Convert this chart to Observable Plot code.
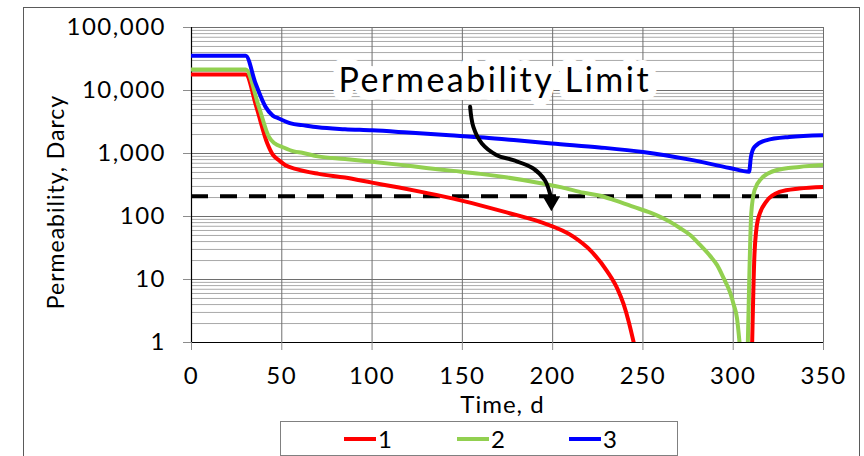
<!DOCTYPE html>
<html><head><meta charset="utf-8">
<script src="https://cdn.jsdelivr.net/npm/d3@7"></script>
<script src="https://cdn.jsdelivr.net/npm/@observablehq/plot@0.6"></script>
<style>
html,body{margin:0;padding:0;background:#fff;width:864px;height:456px;overflow:hidden;font-family:Lato, sans-serif;}
#frame{position:absolute;left:23px;top:7px;width:837px;height:480px;border:1.5px solid #5a5a5a;box-sizing:border-box;}
#chart{position:absolute;left:0;top:0;}
#legend{position:absolute;left:280px;top:421px;width:398px;height:35px;border:1px solid #808080;box-sizing:border-box;background:#fff;}
.item{position:absolute;top:0;height:33px;display:flex;align-items:center;font-size:24px;color:#000;letter-spacing:1px;}
.sw{display:inline-block;width:32px;height:4px;margin-right:2px;}
</style></head><body>
<div id="frame"></div><div id="chart"></div><div id="legend"></div>
<script>
// ---- data ----
const seriesNames = ["1", "2", "3"];
const seriesColors = ["#ff0000", "#92d050", "#0000ff"];

const time1 = [0, 30, 36, 42, 45, 48.4, 52, 57.6, 70.5, 85, 100, 115, 130, 145, 160, 175, 193, 211.7, 220.9, 230.2, 235.7, 239.3, 242.2, 244.9, 280, 310.5, 311.8, 313.6, 318.2, 325.6, 336.6, 350];
const perm1 = [17900, 17900, 5400, 1440, 960, 783, 650, 570, 475, 415, 345, 288, 237, 192, 150, 115, 82, 47.4, 29, 13.5, 7.3, 4.05, 2.1, 1, NaN, 1, 26, 87, 171, 245, 278, 295];

const time2 = [0, 30, 37.3, 42.9, 46, 50.3, 56.7, 61.3, 70, 85, 100, 115.7, 130, 145, 160, 175, 189.6, 205, 217.2, 226.4, 235, 244.9, 254.1, 263.4, 270.7, 276.3, 281.8, 287.3, 291.1, 294.7, 298.4, 300.2, 302.1, 303.5, 305, 308.1, 309, 310, 311.8, 315.5, 323.8, 336.6, 350];
const perm2 = [21500, 21500, 5500, 1830, 1450, 1270, 1080, 1025, 900, 820, 740, 660, 590, 530, 475, 415, 354, 290, 238, 213, 178, 142, 115, 87, 65, 50.5, 35, 23.5, 16.9, 10.5, 6.07, 4.06, 2.43, 1, NaN, 1, 14, 112, 261, 398, 543, 612, 655];

const time3 = [0, 30, 35.5, 41, 45, 48.4, 55, 61.3, 70, 85, 100, 120, 143, 162, 180, 199.4, 226, 250, 276, 298, 308.8, 309.8, 311.8, 318.2, 331, 350];
const perm3 = [35500, 35500, 12900, 5500, 4000, 3600, 3000, 2820, 2600, 2430, 2330, 2150, 1950, 1795, 1620, 1440, 1250, 1060, 800, 590, 515, 880, 1274, 1620, 1835, 1950];

const limitValue = 210;               // dashed permeability limit
const annotationText = "Permeability Limit";
const annotationT = 168, annotationK = 9400;
const arrowT = [154.3, 156.1, 160.8, 169.1, 178.2, 189.3, 195.7, 198.5, 199.2];
const arrowK = [5500, 2640, 1440, 940, 783, 578, 376, 232, 190];
const arrowHeadT = 199.3, arrowHeadK = 175;

const xTicks = [0, 50, 100, 150, 200, 250, 300, 350];
const yTicks = [1, 10, 100, 1000, 10000, 100000];
const minorMultipliers = [2, 3, 4, 5, 6, 7, 8, 9];

const xLabel = "Time, d";
const yLabel = "Permeability, Darcy";

// ---- build tables ----
const times = [time1, time2, time3];
const perms = [perm1, perm2, perm3];
const rows = [];
seriesNames.forEach((s, i) => times[i].forEach((t, j) => rows.push({series: s, t, k: perms[i][j]})));
const arrowRows = arrowT.map((t, i) => ({t, k: arrowK[i]}));
const minorY = yTicks.slice(0, -1).flatMap(d => minorMultipliers.map(m => d * m));

const chart = Plot.plot({
  width: 864,
  height: 421,
  marginLeft: 191,
  marginRight: 41,
  marginTop: 27,
  marginBottom: 79,
  style: {fontFamily: "Lato, sans-serif", fontSize: "24px", background: "transparent", color: "black", overflow: "visible", letterSpacing: "1.5px"},
  x: {domain: [0, 350], label: null},
  y: {type: "log", domain: [1, 100000], label: null},
  color: {domain: seriesNames, range: seriesColors},
  marks: [
    Plot.gridY(minorY, {stroke: "#a9a9a9", strokeOpacity: 1, strokeWidth: 1}),
    Plot.gridY(yTicks, {stroke: "#6e6e6e", strokeOpacity: 1, strokeWidth: 1}),
    Plot.gridX(xTicks.slice(1), {stroke: "#6e6e6e", strokeOpacity: 1, strokeWidth: 1}),
    Plot.ruleX([0], {stroke: "black", strokeWidth: 1.2}),
    Plot.ruleY([1], {stroke: "black", strokeWidth: 1.2}),
    Plot.axisY(yTicks, {tickSize: 8, tickPadding: 17.5, stroke: "#8c8c8c", fill: "black", fontSize: 24, tickFormat: d3.format(","), label: null}),
    Plot.axisX(xTicks, {tickSize: 8, tickPadding: 16, stroke: "#8c8c8c", fill: "black", fontSize: 24, label: null}),
    Plot.text([xLabel], {frameAnchor: "bottom", dx: -5, dy: 70, lineAnchor: "bottom", fontSize: 24, fill: "black"}),
    Plot.text([yLabel], {frameAnchor: "left", textAnchor: "middle", rotate: -90, dx: -135, dy: 17, lineAnchor: "middle", fontSize: 23, fill: "black"}),
    Plot.text([annotationText], {x: () => annotationT, y: () => annotationK, text: d => d, lineAnchor: "bottom", fontSize: 34, fill: "black", stroke: "white", strokeWidth: 16, strokeLinejoin: "round", paintOrder: "stroke"}),
    Plot.ruleY([limitValue], {stroke: "black", strokeWidth: 4, strokeDasharray: "17,12"}),
    Plot.line(rows, {x: "t", y: "k", z: "series", stroke: "series", strokeWidth: 4, curve: "monotone-x", clip: true}),
    Plot.line(arrowRows, {x: "t", y: "k", stroke: "black", strokeWidth: 4, curve: "catmull-rom"}),
    Plot.dot([0], {x: () => arrowHeadT, y: () => arrowHeadK, symbol: "triangle", rotate: 180, r: 6.5, fill: "black", stroke: "none"})
  ]
});
// per-text letter spacing to match the wide reference glyphs
chart.querySelectorAll("text").forEach(t => {
  if (t.textContent === annotationText) t.style.letterSpacing = "2.5px";
  else if (t.textContent === yLabel) t.style.letterSpacing = "1px";
  else if (t.textContent === xLabel) t.style.letterSpacing = "1px";
});
document.getElementById("chart").appendChild(chart);

// legend
const legend = document.getElementById("legend");
const offsets = [63, 176, 288];
seriesNames.forEach((s, i) => {
  const item = document.createElement("div");
  item.className = "item";
  item.style.left = offsets[i] + "px";
  const sw = document.createElement("span");
  sw.className = "sw";
  sw.style.background = seriesColors[i];
  item.appendChild(sw);
  item.appendChild(document.createTextNode(s));
  legend.appendChild(item);
});
</script>
</body></html>
